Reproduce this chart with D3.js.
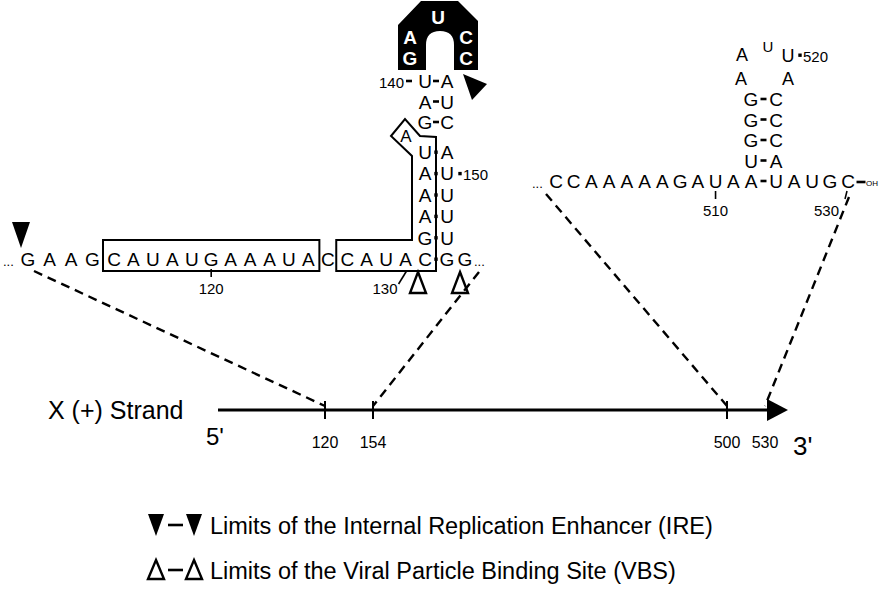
<!DOCTYPE html>
<html>
<head>
<meta charset="utf-8">
<script src="https://cdn.jsdelivr.net/npm/d3@7"></script>
<style>
  body { margin: 0; background: #fff; }
  text { font-family: "Liberation Sans", Arial, Helvetica, sans-serif; fill: #000; }
</style>
</head>
<body>
<div id="viz"></div>
<script>
// ---- data ----
// left region of the X(+) strand, 5' -> 3', positions 111..131
const rowLeft = "GAAGCAUAUGAAAUACCAUAC".split("");
const rowLeftStart = 111;
// hairpin 131-154 : [5' base, 3' base, bond]
const lhPairs = [
  ["C", "G", "dot"],   // 131-154
  ["G", "U", "dot"],   // 132-153
  ["A", "U", "dot"],   // 133-152
  ["A", "U", "dot"],   // 134-151
  ["A", "U", "dot"],   // 135-150
  ["U", "A", "dot"],   // 136-149
  ["G", "C", "dash"],  // 138-148
  ["A", "U", "dash"],  // 139-147
  ["U", "A", "dash"]   // 140-146
];
const lhBulge = "A";               // 137
const lhLoop = ["G", "A", "U", "C", "C"]; // 141..145
const rowLeftTail = ["G", "G"];    // 154 (in pair), 155

// right region, positions 501..512
const rowRight = "CCAAAAAGAUAA".split("");
const rowRightStart = 501;
// hairpin 512-526
const rhPairs = [
  ["A", "U"],  // 512-526
  ["U", "A"],  // 513-525
  ["G", "C"],  // 514-524
  ["G", "C"],  // 515-523
  ["G", "C"]   // 516-522
];
const rhLoop = ["A", "A", "U", "U", "A"]; // 517..521
const rowRightTail = ["A", "U", "G", "C"]; // 527..530

// strand map
const strandTicks = [120, 154, 500];
const strandLabels = [120, 154, 500, 530];

const legendItems = [
  { kind: "filled", text: "Limits of the Internal Replication Enhancer (IRE)" },
  { kind: "open", text: "Limits of the Viral Particle Binding Site (VBS)" }
];

// ---- drawing ----
const W = 882, H = 591;
const svg = d3.select("#viz").append("svg")
  .attr("width", W).attr("height", H)
  .attr("viewBox", `0 0 ${W} ${H}`);

const FS = 19;

// scales
const xL = d3.scaleLinear().domain([0, 4, 20]).range([28, 114, 425]);   // index in rowLeft
const yL = d3.scaleLinear().domain([0, 5, 6, 8]).range([266, 159, 129, 88]); // stem level
const colL1 = xL(rowLeft.length - 1), colL2 = colL1 + 22;

const xR = d3.scaleLinear().domain([0, rowRight.length - 1]).range([556, 751]);
const yR = d3.scaleLinear().domain([0, 4]).range([188, 106]);
const colR1 = xR(rowRight.length - 1), colR2 = colR1 + 25;

const xS = d3.scaleLinear().domain([0, 120, 154, 500, 530, 548]).range([218, 325, 373, 727, 765, 788]);
const yStrand = 410;

function base(g, ch, x, y, size) {
  return g.append("text").attr("x", x).attr("y", y)
    .attr("text-anchor", "middle").style("font-size", (size || FS) + "px").text(ch);
}
function dot(g, x, y) {
  g.append("rect").attr("x", x - 1.7).attr("y", y - 8.5).attr("width", 3.4).attr("height", 3.4);
}
function dash(g, x, y, w) {
  w = w || 7;
  g.append("line").attr("x1", x - w / 2).attr("x2", x + w / 2)
    .attr("y1", y - 7).attr("y2", y - 7).attr("stroke", "#000").attr("stroke-width", 2.6);
}
const poly = pts => "M" + pts.map(p => p.join(",")).join("L") + "Z";

// ---- left region ----
const gL = svg.append("g");
gL.append("text").attr("x", 3).attr("y", yL(0)).style("font-size", "13px").text("...");
rowLeft.forEach((c, i) => base(gL, c, xL(i), yL(0)));

// boxes
gL.append("rect")
  .attr("x", xL(4) - 11).attr("y", yL(0) - 26)
  .attr("width", xL(14) - xL(4) + 22).attr("height", 31)
  .attr("fill", "none").attr("stroke", "#000").attr("stroke-width", 2);

const bx0 = xL(16) - 11, bTop = yL(0) - 26, bBot = yL(0) + 5;
const bMid = (colL1 + colL2) / 2;
const bulgeX = colL1 - 19, bulgeY = yL(6) + 13;
gL.append("path")
  .attr("d", poly([
    [bx0, bTop], [colL1 - 13, bTop], [colL1 - 13, bulgeY + 14],
    [bulgeX - 15, bulgeY - 6], [bulgeX - 1, bulgeY - 23], [bulgeX + 14, bulgeY - 6],
    [bMid, bulgeY - 5], [bMid, bBot], [bx0, bBot]
  ]))
  .attr("fill", "none").attr("stroke", "#000").attr("stroke-width", 2).attr("stroke-linejoin", "miter");

// stem
lhPairs.forEach((p, lv) => {
  if (lv > 0) base(gL, p[0], colL1, yL(lv));
  base(gL, p[1], colL2, yL(lv));
  if (p[2] === "dot") dot(gL, bMid, yL(lv)); else dash(gL, bMid, yL(lv), 6);
});
base(gL, lhBulge, bulgeX, bulgeY, 17);
base(gL, rowLeftTail[1], colL2 + 18, yL(0));
gL.append("text").attr("x", colL2 + 27).attr("y", yL(0)).style("font-size", "13px").text("...");

// numbering
gL.append("line").attr("x1", xL(9)).attr("x2", xL(9)).attr("y1", yL(0) + 3).attr("y2", yL(0) + 11)
  .attr("stroke", "#000").attr("stroke-width", 1.6);
gL.append("text").attr("x", xL(9)).attr("y", yL(0) + 28).attr("text-anchor", "middle")
  .style("font-size", "15px").text(rowLeftStart + 9);
gL.append("line").attr("x1", xL(19) - 7).attr("x2", xL(19) + 1).attr("y1", yL(0) + 18).attr("y2", yL(0) + 5)
  .attr("stroke", "#000").attr("stroke-width", 1.6);
gL.append("text").attr("x", xL(19) - 8).attr("y", yL(0) + 28).attr("text-anchor", "end")
  .style("font-size", "15px").text(rowLeftStart + 19);
dot(gL, colL2 + 13, yL(4));
gL.append("text").attr("x", colL2 + 16).attr("y", yL(4)).style("font-size", "15px").text("150");
gL.append("text").attr("x", colL1 - 21).attr("y", yL(8)).attr("text-anchor", "end")
  .style("font-size", "15px").text("140");
dash(gL, colL1 - 16, yL(8), 6);

// black loop
const lp = d3.path();
const lx0 = colL1 - 27, lx1 = colL2 + 31, ly0 = 1, ly1 = yL(8) - 18;
const ax0 = colL1 + 1, ax1 = colL2 + 7, aTop = 31;
lp.moveTo(lx0, ly0 + 24); lp.lineTo(lx0 + 23, ly0); lp.lineTo(lx1 - 20, ly0); lp.lineTo(lx1, ly0 + 20);
lp.lineTo(lx1, ly1); lp.lineTo(ax1, ly1); lp.lineTo(ax1, aTop + 14);
lp.quadraticCurveTo(ax1, aTop, (ax0 + ax1) / 2, aTop);
lp.quadraticCurveTo(ax0, aTop, ax0, aTop + 14);
lp.lineTo(ax0, ly1); lp.lineTo(lx0, ly1); lp.closePath();
gL.append("path").attr("d", lp.toString()).attr("fill", "#000");
const loopPos = [[lx0 + 12, ly1 - 5], [lx0 + 12, ly1 - 26], [(lx0 + lx1) / 2, 24], [lx1 - 12, ly1 - 26], [lx1 - 12, ly1 - 5]];
lhLoop.forEach((c, i) => base(gL, c, loopPos[i][0], loopPos[i][1], 19)
  .style("fill", "#fff").style("font-weight", "bold"));

// ---- right region ----
const gR = svg.append("g");
gR.append("text").attr("x", xR(0) - 24).attr("y", yR(0)).style("font-size", "13px").text("...");
rowRight.forEach((c, i) => base(gR, c, xR(i), yR(0)));
rhPairs.forEach((p, lv) => {
  if (lv > 0) base(gR, p[0], colR1, yR(lv));
  base(gR, p[1], colR2, yR(lv));
  dash(gR, (colR1 + colR2) / 2, yR(lv), 6);
});
rowRightTail.forEach((c, i) => base(gR, c, colR2 + 18 * (i + 1), yR(0)));
const rLoopPos = [[colR1 - 10, yR(5) - 1], [colR1 - 9, yR(6) - 4], [colR1 + 17, yR(6) - 13], [colR2 + 12, yR(6) - 3], [colR2 + 12, yR(5) - 1]];
rhLoop.forEach((c, i) => base(gR, c, rLoopPos[i][0], rLoopPos[i][1], i === 2 ? 15 : 18));
dot(gR, colR2 + 24, rLoopPos[3][1]);
gR.append("text").attr("x", colR2 + 27).attr("y", rLoopPos[3][1]).style("font-size", "15px").text("520");
const cEnd = colR2 + 18 * rowRightTail.length;
dash(gR, cEnd + 13, yR(0) + 1, 9);
gR.append("text").attr("x", cEnd + 18).attr("y", yR(0) - 2).style("font-size", "8px").text("OH");
gR.append("line").attr("x1", xR(9)).attr("x2", xR(9)).attr("y1", yR(0) + 3).attr("y2", yR(0) + 11)
  .attr("stroke", "#000").attr("stroke-width", 1.6);
gR.append("text").attr("x", xR(9)).attr("y", yR(0) + 28).attr("text-anchor", "middle")
  .style("font-size", "15px").text(rowRightStart + 9);
gR.append("line").attr("x1", cEnd - 3).attr("x2", cEnd - 1).attr("y1", yR(0) + 11).attr("y2", yR(0) + 3)
  .attr("stroke", "#000").attr("stroke-width", 1.6);
gR.append("text").attr("x", cEnd - 9).attr("y", yR(0) + 28).attr("text-anchor", "end")
  .style("font-size", "15px").text(rowRightStart + 29);

// ---- limit markers ----
const tri = (cx, top, w, h, down) => down
  ? [[cx - w / 2, top], [cx + w / 2, top], [cx, top + h]]
  : [[cx, top], [cx + w / 2, top + h], [cx - w / 2, top + h]];
svg.append("path").attr("d", poly(tri(21, 222, 18, 26, true)));
svg.append("path").attr("d", poly([[lx1 - 15, ly1 + 4], [lx1 + 9, ly1 + 14], [lx1 - 6, ly1 + 30]]));
[colL1 - 7, colL2 + 13].forEach(cx =>
  svg.append("path").attr("d", poly(tri(cx, yL(0) + 6, 16, 21, false)))
    .attr("fill", "none").attr("stroke", "#000").attr("stroke-width", 2.4));

// ---- dashed connectors ----
const links = [
  { x: 34, y: yL(0) + 5, pos: 120 },
  { x: colL2 + 32, y: yL(0) + 6, pos: 154 },
  { x: xR(0) - 10, y: yR(0) + 6, pos: 500 },
  { x: cEnd + 1, y: yR(0) + 9, pos: 530 }
];
svg.append("g").selectAll("line").data(links).join("line")
  .attr("x1", d => d.x).attr("y1", d => d.y)
  .attr("x2", d => xS(d.pos)).attr("y2", yStrand - 4)
  .attr("stroke", "#000").attr("stroke-width", 2.4).attr("stroke-dasharray", "9,6");

// ---- strand ----
const gS = svg.append("g");
const tipX = xS(548);
gS.append("line").attr("x1", xS(0)).attr("x2", tipX - 16).attr("y1", yStrand).attr("y2", yStrand)
  .attr("stroke", "#000").attr("stroke-width", 3);
gS.append("path").attr("d", poly([[tipX - 21, yStrand - 11], [tipX, yStrand], [tipX - 21, yStrand + 11]]));
gS.selectAll(".tk").data(strandTicks).join("line")
  .attr("x1", d => xS(d)).attr("x2", d => xS(d)).attr("y1", yStrand - 9).attr("y2", yStrand + 9)
  .attr("stroke", "#000").attr("stroke-width", 2);
gS.selectAll(".lb").data(strandLabels).join("text")
  .attr("x", d => xS(d)).attr("y", yStrand + 38)
  .attr("text-anchor", "middle")
  .style("font-family", '"Liberation Sans Narrow", "Liberation Sans", sans-serif')
  .style("font-size", "16px").text(d => d);
gS.append("text").attr("x", 48).attr("y", yStrand + 9).style("font-size", "25px").text("X (+) Strand");
gS.append("text").attr("x", xS(0) - 12).attr("y", yStrand + 35).style("font-size", "24px").text("5'");
gS.append("text").attr("x", tipX + 5).attr("y", yStrand + 45).style("font-size", "26px").text("3'");

// ---- legend ----
const yLeg = d3.scalePoint().domain(legendItems.map(d => d.text)).range([534, 579]);
const gLeg = svg.append("g");
legendItems.forEach(d => {
  const y = yLeg(d.text);
  const filled = d.kind === "filled";
  [156, 194].forEach(cx => {
    gLeg.append("path")
      .attr("d", poly(filled ? tri(cx, y - 20, 16, 22, true) : tri(cx, y - 19, 16, 19, false)))
      .attr("fill", filled ? "#000" : "none").attr("stroke", "#000").attr("stroke-width", filled ? 0 : 2.4);
  });
  gLeg.append("line").attr("x1", 168).attr("x2", 183).attr("y1", y - 9).attr("y2", y - 9)
    .attr("stroke", "#000").attr("stroke-width", 2.6);
  gLeg.append("text").attr("x", 210).attr("y", y).style("font-size", "23.5px").text(d.text);
});
</script>
</body>
</html>
